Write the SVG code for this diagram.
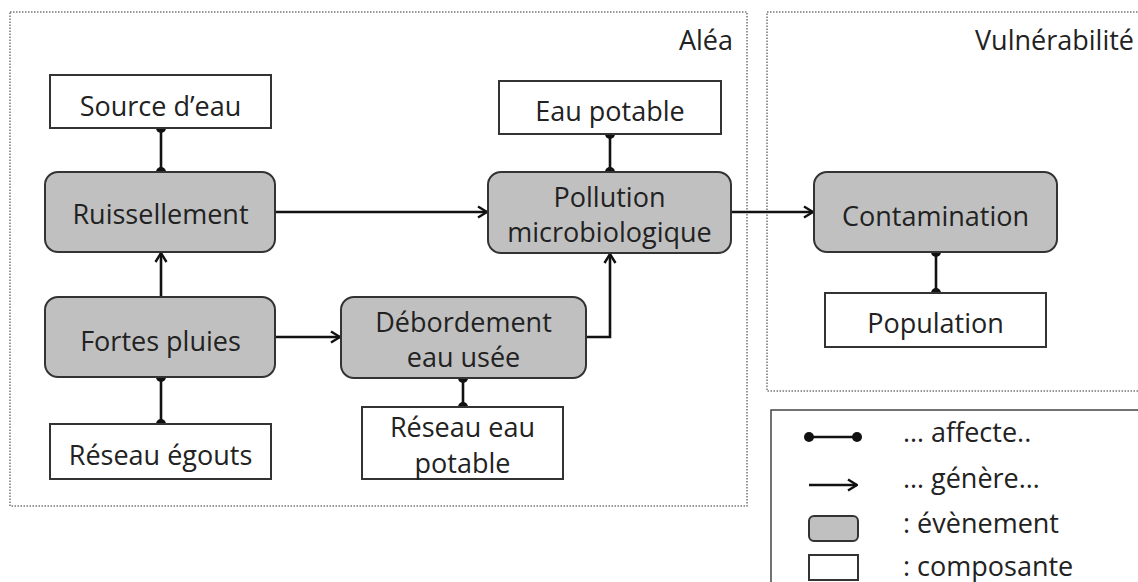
<svg xmlns="http://www.w3.org/2000/svg" width="1138" height="582" viewBox="0 0 1138 582">
<defs>
<marker id="arr" viewBox="0 0 12 14" refX="11" refY="7" markerWidth="12" markerHeight="14" markerUnits="userSpaceOnUse" orient="auto">
<path d="M2,1.5 L11,7 L2,12.5" fill="none" stroke="#111" stroke-width="2.4"/>
</marker>
<marker id="dot" viewBox="0 0 10 10" refX="5" refY="5" markerWidth="10" markerHeight="10" markerUnits="userSpaceOnUse">
<circle cx="5" cy="5" r="5" fill="#111"/>
</marker>
</defs>
<style>
text{font-family:"Open Sans","Noto Sans","DejaVu Sans",sans-serif;font-size:27px;fill:#222;text-anchor:middle}
.ev{fill:#c0c0c0;stroke:#333;stroke-width:2}
.co{fill:#fff;stroke:#333;stroke-width:2}
.zone{fill:none;stroke:#777;stroke-width:1.5;stroke-dasharray:1.5 1.5}
.aff{stroke:#111;stroke-width:2.6;fill:none;marker-start:url(#dot);marker-end:url(#dot)}
.gen{stroke:#111;stroke-width:2.6;fill:none;marker-end:url(#arr)}
.lt{text-anchor:start}
</style>
<rect width="1138" height="582" fill="#fff"/>
<g id="zones">
<rect class="zone" x="10" y="12" width="737" height="494"/>
<rect class="zone" x="767" y="12" width="380" height="379"/>
<text x="733" y="50" style="text-anchor:end">Aléa</text>
<text x="1134" y="50" style="text-anchor:end">Vulnérabilité</text>
</g>
<g id="connectors">
<path class="aff" d="M161,128 V172"/>
<path class="gen" d="M161,297 V253"/>
<path class="aff" d="M161,377 V424"/>
<path class="gen" d="M275,337 H340"/>
<path class="gen" d="M275,212 H487"/>
<path class="gen" d="M586,337 H610 V254"/>
<path class="aff" d="M610,134 V172"/>
<path class="aff" d="M463,378 V407"/>
<path class="gen" d="M731,212 H813"/>
<path class="aff" d="M936,252 V293"/>
</g>
<g id="source-eau">
<rect class="co" x="50" y="75" width="221" height="53"/>
<text x="160.5" y="116">Source d’eau</text>
</g>
<g id="ruissellement">
<rect class="ev" x="45" y="172" width="230" height="80" rx="13"/>
<text x="160.5" y="224">Ruissellement</text>
</g>
<g id="fortes-pluies">
<rect class="ev" x="45" y="297" width="230" height="80" rx="13"/>
<text x="160.5" y="351">Fortes pluies</text>
</g>
<g id="reseau-egouts">
<rect class="co" x="50" y="424" width="221" height="55"/>
<text x="160.5" y="465">Réseau égouts</text>
</g>
<g id="debordement">
<rect class="ev" x="341" y="297" width="245" height="81" rx="13"/>
<text x="463.5" y="332">Débordement</text>
<text x="463.5" y="367">eau usée</text>
</g>
<g id="reseau-eau-potable">
<rect class="co" x="362" y="407" width="201" height="72"/>
<text x="462.5" y="437">Réseau eau</text>
<text x="462.5" y="473">potable</text>
</g>
<g id="eau-potable">
<rect class="co" x="499" y="81" width="222" height="53"/>
<text x="610" y="121">Eau potable</text>
</g>
<g id="pollution">
<rect class="ev" x="488" y="172" width="243" height="81" rx="13"/>
<text x="609.5" y="207">Pollution</text>
<text x="609.5" y="242">microbiologique</text>
</g>
<g id="contamination">
<rect class="ev" x="814" y="172" width="243" height="80" rx="13"/>
<text x="935.5" y="226">Contamination</text>
</g>
<g id="population">
<rect class="co" x="825" y="293" width="221" height="54"/>
<text x="935.5" y="333">Population</text>
</g>
<g id="legend">
<rect x="771" y="410" width="380" height="180" fill="#fff" stroke="#444" stroke-width="1.5"/>
<path class="aff" d="M809,437 H857"/>
<path class="gen" d="M809,485 H857"/>
<rect class="ev" x="809" y="516" width="49" height="25" rx="5"/>
<rect class="co" x="809" y="555" width="49" height="25"/>
<text class="lt" x="903" y="442">… affecte..</text>
<text class="lt" x="903" y="488">… génère…</text>
<text class="lt" x="903" y="533">: évènement</text>
<text class="lt" x="903" y="576">: composante</text>
</g>
</svg>
